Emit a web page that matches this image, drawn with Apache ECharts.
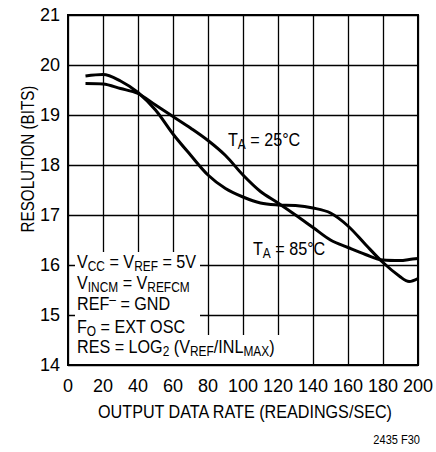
<!DOCTYPE html>
<html>
<head>
<meta charset="utf-8">
<script src="https://cdn.jsdelivr.net/npm/echarts@6/dist/echarts.min.js"></script>
<style>
  html, body { margin: 0; padding: 0; background: #fff; }
  #chart { width: 436px; height: 452px; }
</style>
</head>
<body>
<div id="chart"></div>
<script>
// output data rate (readings/sec)
const rates = [10, 20, 30, 40, 50, 60, 70, 80, 90, 100, 110, 120, 130, 140, 150, 160, 170, 180, 190, 195, 200];
// curve that starts high and dips below 16 at the end
const resA = [19.78, 19.81, 19.68, 19.45, 19.10, 18.62, 18.20, 17.80, 17.53, 17.36, 17.24, 17.20, 17.19, 17.14, 17.04, 16.78, 16.41, 16.05, 15.76, 15.67, 15.73];
// curve that starts lower and flattens near 16.1
const resB = [19.63, 19.62, 19.53, 19.43, 19.20, 18.97, 18.74, 18.49, 18.19, 17.80, 17.47, 17.24, 17.00, 16.75, 16.50, 16.35, 16.21, 16.10, 16.09, 16.11, 16.13];

const xTicks = [0, 200, 20];   // min, max, step
const yTicks = [14, 21, 1];

// no condensed face installed, so Liberation Sans squeezed with scaleX
const FONT = '"Liberation Sans", Arial, sans-serif';
const SQUEEZE = 0.85;

function pairs(xs, ys) {
    return xs.map((x, i) => [x, ys[i]]);
}

const rich = {
    s: { fontSize: 14, fontFamily: FONT, fill: '#000', lineHeight: 12, padding: [8, 0, 0, 0] },
    sup: { fontSize: 14, fontFamily: FONT, fill: '#000', lineHeight: 10, padding: [0, 0, 10, 0] }
};

function note(x, y, text, opts) {
    return Object.assign({
        type: 'text',
        x: x,
        y: y,
        z: 10,
        scaleX: SQUEEZE,
        style: {
            text: text,
            fontSize: 19,
            fontFamily: FONT,
            fill: '#000',
            lineHeight: 20,
            verticalAlign: 'middle',
            rich: rich
        }
    }, opts || {});
}

const myChart = echarts.init(document.getElementById('chart'), null, { renderer: 'svg' });

const option = {
    animation: false,
    backgroundColor: '#fff',
    grid: {
        left: 68,
        right: 15,
        top: 15,
        bottom: 87,
        show: true,
        borderColor: '#000',
        borderWidth: 2
    },
    xAxis: {
        type: 'value',
        min: xTicks[0],
        max: xTicks[1],
        interval: xTicks[2],
        axisLine: { lineStyle: { color: '#000', width: 2 } },
        axisTick: { show: false },
        axisLabel: { fontSize: 18, fontFamily: FONT, color: '#000', margin: 12 },
        splitLine: { lineStyle: { color: '#000', width: 1.3 } }
    },
    yAxis: {
        type: 'value',
        min: yTicks[0],
        max: yTicks[1],
        interval: yTicks[2],
        axisLine: { lineStyle: { color: '#000', width: 2 } },
        axisTick: { show: false },
        axisLabel: { fontSize: 18, fontFamily: FONT, color: '#000', margin: 8 },
        splitLine: { lineStyle: { color: '#000', width: 1.3 } }
    },
    series: [
        {
            name: 'A',
            type: 'line',
            data: pairs(rates, resA),
            smooth: 0.35,
            showSymbol: false,
            lineStyle: { color: '#000', width: 3 },
            z: 5
        },
        {
            name: 'B',
            type: 'line',
            data: pairs(rates, resB),
            smooth: 0.35,
            showSymbol: false,
            lineStyle: { color: '#000', width: 3 },
            z: 5
        }
    ],
    graphic: [
        // white box behind the conditions block
        { type: 'rect', z: 5, shape: { x: 75, y: 252, width: 125, height: 112 }, style: { fill: '#fff' } },
        { type: 'rect', z: 5, shape: { x: 75, y: 335, width: 205, height: 29 }, style: { fill: '#fff' } },
        note(77, 262, 'V{s|CC} = V{s|REF} = 5V'),
        note(77, 283, 'V{s|INCM} = V{s|REFCM}'),
        note(77, 304, 'REF{sup|–} = GND'),
        note(77, 327, 'F{s|O} = EXT OSC'),
        note(77, 347, 'RES = LOG{s|2} (V{s|REF}/INL{s|MAX})'),
        note(228, 140, 'T{s|A} = 25°C'),
        note(253, 249, 'T{s|A} = 85°C'),
        // axis titles
        note(245, 412, '', {
            style: { text: 'OUTPUT DATA RATE (READINGS/SEC)', fontSize: 19, fontFamily: FONT, fill: '#000', align: 'center', verticalAlign: 'middle' }
        }),
        note(27, 159, '', {
            rotation: Math.PI / 2,
            scaleX: 0.8,
            style: { text: 'RESOLUTION (BITS)', fontSize: 19, fontFamily: FONT, fill: '#000', align: 'center', verticalAlign: 'middle' }
        }),
        note(420, 440, '', {
            style: { text: '2435 F30', fontSize: 13, fontFamily: FONT, fill: '#000', align: 'right', verticalAlign: 'middle' }
        })
    ]
};

myChart.setOption(option);
window.addEventListener('resize', function () {
    myChart.resize();
});
</script>
</body>
</html>
